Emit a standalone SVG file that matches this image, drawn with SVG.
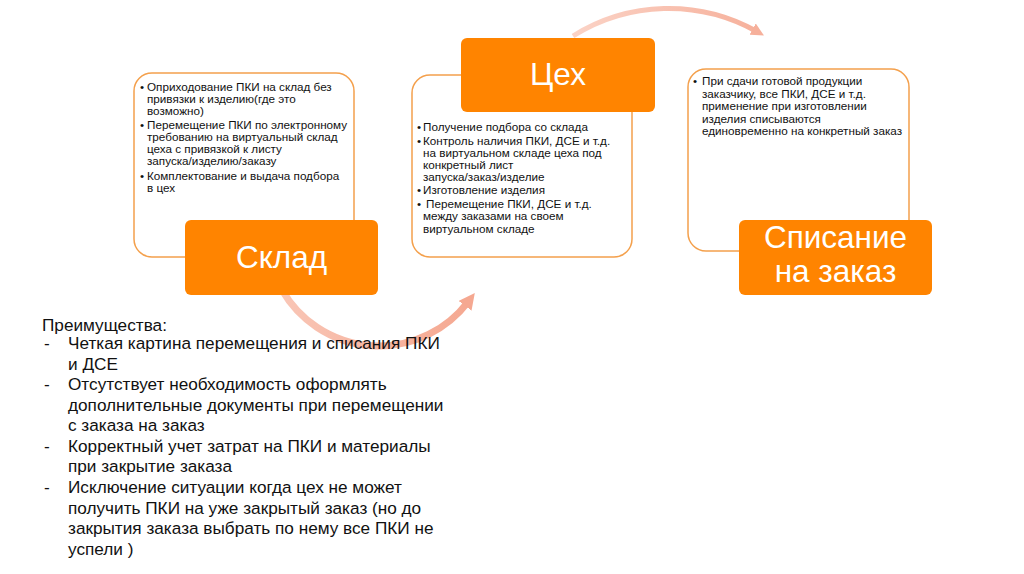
<svg xmlns="http://www.w3.org/2000/svg" width="1024" height="574" viewBox="0 0 1024 574">
<defs>
<style>
.note{fill:#fff;stroke:#F4A04C;stroke-width:1.5}
.head{fill:#FF8400}
.ht{font-family:"Liberation Sans",Arial,sans-serif;font-size:31.5px;fill:#fff;text-anchor:middle}
.sm{font-family:"Liberation Sans",Arial,sans-serif;font-size:11.7px;fill:#111}
.big{font-family:"Liberation Sans",Arial,sans-serif;font-size:17.2px;fill:#111}
.arc{fill:none}
</style>
<linearGradient id="g1" gradientUnits="userSpaceOnUse" x1="282" y1="290" x2="470" y2="300">
<stop offset="0" stop-color="#F9C6B6"/>
<stop offset="1" stop-color="#F5A891"/>
</linearGradient>
<linearGradient id="g2" gradientUnits="userSpaceOnUse" x1="573" y1="35" x2="760" y2="35">
<stop offset="0" stop-color="#FBD3C6"/>
<stop offset="1" stop-color="#F6B09B"/>
</linearGradient>
<marker id="ah1" viewBox="0 0 4 4" markerWidth="2.3" markerHeight="2.3" refX="1.2" refY="2" orient="auto" markerUnits="strokeWidth">
<path d="M0,0 L4,2 L0,4 z" fill="#F5A891"/>
</marker>
<marker id="ah2" viewBox="0 0 4 4" markerWidth="2.6" markerHeight="2.6" refX="1.2" refY="2" orient="auto" markerUnits="strokeWidth">
<path d="M0,0 L4,2 L0,4 z" fill="#F6B09B"/>
</marker>
</defs>
<rect width="1024" height="574" fill="#fff"/>

<g id="connectors">
<path class="arc" d="M 282 290 A 112 112 0 0 0 468 302" stroke="url(#g1)" stroke-width="7" marker-end="url(#ah1)"/>
<path class="arc" d="M 573 36 A 180 180 0 0 1 756 31" stroke="url(#g2)" stroke-width="5" marker-end="url(#ah2)"/>
</g>

<g id="note-sklad">
<rect class="note" x="134" y="73" width="220" height="184" rx="18"/>
<text class="sm" x="140" y="91">•</text>
<text class="sm" x="147" y="91">Оприходование ПКИ на склад без</text>
<text class="sm" x="147" y="103">привязки к изделию(где это</text>
<text class="sm" x="147" y="115">возможно)</text>
<text class="sm" x="140" y="129">•</text>
<text class="sm" x="147" y="129">Перемещение ПКИ по электронному</text>
<text class="sm" x="147" y="141">требованию на виртуальный склад</text>
<text class="sm" x="147" y="153">цеха с привязкой к листу</text>
<text class="sm" x="147" y="165">запуска/изделию/заказу</text>
<text class="sm" x="140" y="180">•</text>
<text class="sm" x="147" y="180">Комплектование и выдача подбора</text>
<text class="sm" x="147" y="192">в цех</text>
</g>

<g id="note-ceh">
<rect class="note" x="412" y="75" width="220" height="182" rx="18"/>
<text class="sm" x="417" y="131">•</text>
<text class="sm" x="423" y="131">Получение подбора со склада</text>
<text class="sm" x="417" y="145">•</text>
<text class="sm" x="423" y="145">Контроль наличия ПКИ, ДСЕ и т.д.</text>
<text class="sm" x="423" y="157">на виртуальном складе цеха под</text>
<text class="sm" x="423" y="169">конкретный лист</text>
<text class="sm" x="423" y="181">запуска/заказ/изделие</text>
<text class="sm" x="417" y="194">•</text>
<text class="sm" x="423" y="194">Изготовление изделия</text>
<text class="sm" x="417" y="208">•</text>
<text class="sm" x="426" y="208">Перемещение ПКИ, ДСЕ и т.д.</text>
<text class="sm" x="423" y="220">между заказами на своем</text>
<text class="sm" x="423" y="233">виртуальном складе</text>
</g>

<g id="note-spisanie">
<rect class="note" x="688" y="69" width="221" height="182" rx="18"/>
<text class="sm" x="693" y="85">•</text>
<text class="sm" x="702" y="85">При сдачи готовой продукции</text>
<text class="sm" x="702" y="97.5">заказчику, все ПКИ, ДСЕ и т.д.</text>
<text class="sm" x="702" y="110">применение при изготовлении</text>
<text class="sm" x="702" y="122.5">изделия списываются</text>
<text class="sm" x="702" y="135">единовременно на конкретный заказ</text>
</g>

<g id="sklad">
<rect class="head" x="185" y="220" width="193" height="75" rx="6"/>
<text class="ht" x="281.5" y="268">Склад</text>
</g>

<g id="ceh">
<rect class="head" x="461" y="38" width="194" height="74" rx="6"/>
<text class="ht" x="558" y="85">Цех</text>
</g>

<g id="spisanie">
<rect class="head" x="739" y="220" width="193" height="75" rx="6"/>
<text class="ht" x="835.5" y="248">Списание</text>
<text class="ht" x="835.5" y="282">на заказ</text>
</g>

<g id="advantages">
<text class="big" x="42" y="331">Преимущества:</text>
<text class="big" x="44" y="349">-</text>
<text class="big" x="68" y="349">Четкая картина перемещения и списания ПКИ</text>
<text class="big" x="68" y="370">и ДСЕ</text>
<text class="big" x="44" y="390">-</text>
<text class="big" x="68" y="390">Отсутствует необходимость оформлять</text>
<text class="big" x="68" y="411">дополнительные документы при перемещении</text>
<text class="big" x="68" y="431">с заказа на заказ</text>
<text class="big" x="44" y="452">-</text>
<text class="big" x="68" y="452">Корректный учет затрат на ПКИ и материалы</text>
<text class="big" x="68" y="472">при закрытие заказа</text>
<text class="big" x="44" y="493">-</text>
<text class="big" x="68" y="493">Исключение ситуации когда цех не может</text>
<text class="big" x="68" y="514">получить ПКИ на уже закрытый заказ (но до</text>
<text class="big" x="68" y="534">закрытия заказа выбрать по нему все ПКИ не</text>
<text class="big" x="68" y="555">успели )</text>
</g>
</svg>
